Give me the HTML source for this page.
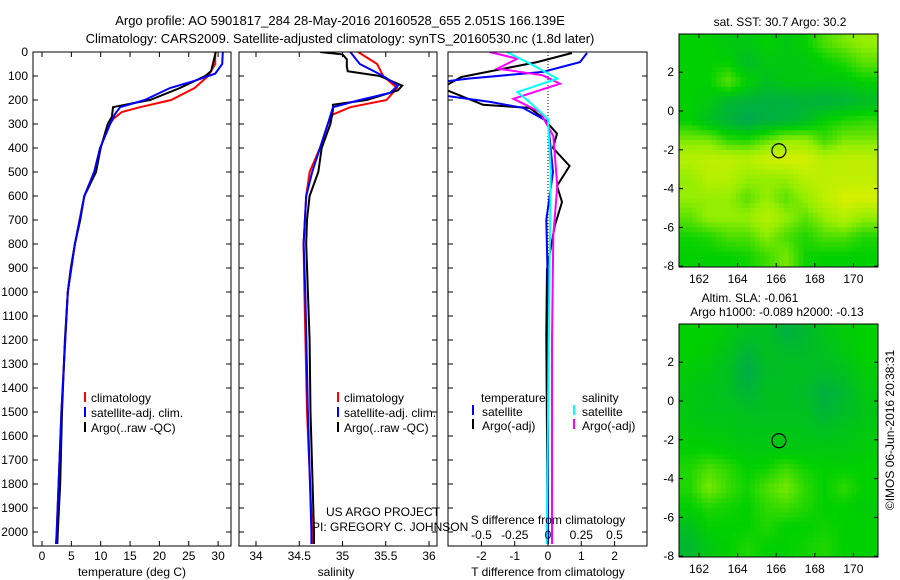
<!DOCTYPE html>
<html><head><meta charset="utf-8"><style>
html,body{margin:0;padding:0;background:#fff}
svg{display:block;font-family:"Liberation Sans",sans-serif;font-size:12px}
</style></head><body>
<svg id="s" width="900" height="580" xmlns="http://www.w3.org/2000/svg">
<defs>
<clipPath id="c1"><rect x="33" y="52" width="198" height="494"/></clipPath>
<clipPath id="c2"><rect x="239" y="52" width="198" height="494"/></clipPath>
<clipPath id="c3"><rect x="448" y="52" width="199" height="494"/></clipPath>
<clipPath id="cm1"><rect x="679" y="34" width="199" height="233"/></clipPath>
<clipPath id="cm2"><rect x="679" y="324" width="199" height="233"/></clipPath>
</defs>
<text x="340" y="25" text-anchor="middle" font-size="13">Argo profile: AO 5901817_284 28-May-2016 20160528_655 2.051S 166.139E</text>
<text x="340" y="43" text-anchor="middle" font-size="13">Climatology: CARS2009. Satellite-adjusted climatology: synTS_20160530.nc (1.8d later)</text>
<g id="maps"></g>
<g id="lines"></g>
<g id="axes"></g>
<rect x="33" y="52" width="198" height="494" fill="none" stroke="#000"/>
<rect x="239" y="52" width="198" height="494" fill="none" stroke="#000"/>
<rect x="448" y="52" width="199" height="494" fill="none" stroke="#000"/>
<rect x="679" y="34" width="199" height="233" fill="none" stroke="#000"/>
<rect x="679" y="324" width="199" height="233" fill="none" stroke="#000"/>
<text x="132" y="576" text-anchor="middle">temperature (deg C)</text>
<text x="336" y="576" text-anchor="middle">salinity</text>
<text x="548" y="576" text-anchor="middle">T difference from climatology</text>
<text x="548" y="524" text-anchor="middle">S difference from climatology</text>
<text x="326" y="516">US ARGO PROJECT</text>
<text x="312" y="531">PI: GREGORY C. JOHNSON</text>
<g>
<rect x="84" y="392" width="2" height="10" fill="#f00"/><text x="91" y="402">climatology</text>
<rect x="84" y="407" width="2" height="10" fill="#00f"/><text x="91" y="417">satellite-adj. clim.</text>
<rect x="84" y="422" width="2" height="10" fill="#000"/><text x="91" y="432">Argo(..raw -QC)</text>
</g>
<g>
<rect x="337" y="392" width="2" height="10" fill="#f00"/><text x="344" y="402">climatology</text>
<rect x="337" y="407" width="2" height="10" fill="#00f"/><text x="344" y="417">satellite-adj. clim.</text>
<rect x="337" y="422" width="2" height="10" fill="#000"/><text x="344" y="432">Argo(..raw -QC)</text>
</g>
<g>
<text x="481" y="402">temperature</text><text x="582" y="402">salinity</text>
<rect x="472" y="405" width="2" height="10" fill="#00f"/><text x="482" y="416">satellite</text>
<rect x="472" y="419" width="2" height="10" fill="#000"/><text x="482" y="430">Argo(-adj)</text>
<rect x="573" y="405" width="2" height="10" fill="#0ff"/><text x="582" y="416">satellite</text>
<rect x="573" y="419" width="2" height="10" fill="#f0f"/><text x="582" y="430">Argo(-adj)</text>
</g>
<text x="780" y="26" text-anchor="middle">sat. SST: 30.7 Argo: 30.2</text>
<text x="750" y="302" text-anchor="middle">Altim. SLA: -0.061</text>
<text x="777" y="316" text-anchor="middle">Argo h1000: -0.089 h2000: -0.13</text>
<text transform="translate(894,430) rotate(-90)" text-anchor="middle">©IMOS 06-Jun-2016 20:38:31</text>
</svg>
<script>
const depthTicks=[0,100,200,300,400,500,600,700,800,900,1000,1100,1200,1300,1400,1500,1600,1700,1800,1900,2000];
const tTicks=[0,5,10,15,20,25,30];
const sTicks=[34,34.5,35,35.5,36];
const sTickLabels=["34","34.5","35","35.5","36"];
const dTTicks=[-2,-1,0,1,2];
const dSTicks=[-0.5,-0.25,0,0.25,0.5];
const dSTickLabels=["-0.5","-0.25","0","0.25","0.5"];
const latTicks=[2,0,-2,-4,-6,-8];
const lonTicks=[162,164,166,168,170];

const tArgoDepth=[0,80,100,150,200,220,230,270,300,400,500,600,700,800,900,1000,1200,1500,1800,2000,2050];
const tArgo=[29.6,28.8,27.8,23.5,18.4,14.1,12.1,11.9,11.2,10,9.2,7.2,6.5,5.6,4.9,4.4,3.9,3.4,3.1,2.7,2.6];
const tClimDepth=[0,50,100,150,200,230,250,280,300,400,500,600,800,1000,1500,2000,2050];
const tClim=[29.5,29.5,28.3,26,22,16.7,13.6,12.1,11.6,9.9,8.9,7.2,5.6,4.4,3.3,2.5,2.4];
const tSatDepth=[0,50,90,120,150,200,230,260,300,400,500,600,800,1000,1500,2000,2050];
const tSat=[30.8,30.7,29.5,26,21.8,17.5,13.3,12.4,11.6,9.9,8.9,7.2,5.6,4.4,3.3,2.5,2.4];

const sArgoDepth=[0,10,30,60,80,100,140,160,200,220,240,300,400,500,600,700,800,1000,1200,1500,2000,2050];
const sArgo=[34.74,35.0,35.05,35.05,35.06,35.43,35.69,35.64,35.28,34.89,34.89,34.86,34.76,34.72,34.62,34.59,34.58,34.6,34.62,34.63,34.67,34.67];
const sClimDepth=[0,50,100,150,200,230,260,300,400,500,600,800,1000,1500,2000,2050];
const sClim=[35.18,35.4,35.47,35.63,35.51,35.09,34.89,34.83,34.74,34.62,34.58,34.55,34.56,34.59,34.65,34.65];
const sSatDepth=[0,50,100,140,170,200,230,300,400,500,600,800,1000,1500,2000,2050];
const sSat=[35.09,35.2,35.47,35.64,35.55,35.2,34.89,34.83,34.74,34.65,34.58,34.55,34.57,34.6,34.64,34.64];

const dTArgoDepth=[4,42,104,150,220,233,275,340,400,475,558,625,725,905,1180,1600,1900,2050];
const dTArgo=[0.72,-0.33,-2.6,-3.2,-1.95,-0.55,-0.15,0.27,0.15,0.65,0.27,0.42,0.2,-0.03,-0.05,-0.03,-0.02,-0.02];
const dTSatDepth=[4,42,83,111,125,180,208,233,290,500,700,1000,1500,2050];
const dTSat=[1.17,0.96,-0.15,-2.4,-3.2,-3.2,-1.74,-0.75,0,0.15,-0.05,0,0,0];
const dSSatDepth=[0,56,111,167,208,280,500,1000,1500,2050];
const dSSat=[-0.31,-0.11,0.07,-0.23,-0.14,0,0.02,0.01,0.0,-0.01];
const dSArgoDepth=[0,28,69,97,132,195,250,350,558,765,1200,2050];
const dSArgo=[-0.44,-0.23,-0.38,-0.04,0.09,-0.26,-0.06,0.04,0.07,0.04,0.03,0.03];

const mapLats=[3.5,2.5,1.5,0.5,-0.5,-1.5,-2.5,-3.5,-4.5,-5.5,-6.5,-7.5];
const mapLons=[161.5,162.5,163.5,164.5,165.5,166.5,167.5,168.5,169.5,170.5];
const sstGrid=[
[2,2,1.8,1.8,2,1.8,2,2.5,2.8,3],
[2,2,2,1.5,1.8,1.8,1.8,2,2.2,2.6],
[2,2,2.6,2,1.6,1.8,1.8,1.8,1.8,2],
[2,1.8,1.4,1.3,1.2,1.2,1.3,1.2,1.3,1.5],
[2,1.6,1.3,1,1.2,1.3,1.5,2,2.2,2.3],
[2.8,2.8,2.3,2.2,2.6,3,3,2.4,2.8,2.8],
[3.4,3.5,3.5,3.4,3.7,3.8,3.8,3.4,3.5,3.5],
[3,3.4,3.4,3,3,3,3.4,3.5,3.5,3.5],
[3,3,3,2.6,3,2.6,3,3.5,3.8,3.8],
[2.6,3,3,3,3.4,3,2.6,3,3.4,3],
[2.1,2.2,2.5,2.5,2.9,2.5,2.2,2.5,2.5,2.2],
[2,2,2,2.1,2.4,2.8,2.1,2,2,2]];
const slaGrid=[
[2,2,1.8,1.6,1.6,1.2,1.4,1.7,1.9,2],
[2,1.9,1.7,1.3,1.6,1.5,1.5,1.6,1.8,2],
[1.9,1.8,1.6,1.1,1.5,1.6,1.6,1.5,1.6,1.9],
[1.8,1.7,1.6,1.3,1.6,1.6,1.5,1.2,1.4,1.8],
[1.8,1.7,1.7,1.6,1.6,1.6,1.6,1.3,1.5,1.7],
[1.9,1.8,1.8,1.7,1.7,1.7,1.7,1.6,1.7,1.8],
[2,2,1.9,1.8,1.8,1.8,1.8,1.8,1.8,1.9],
[2.2,2.5,2.3,2.0,2.1,2.4,2.1,2.0,2.0,2.0],
[2.2,2.8,2.4,2.1,2.5,2.8,2.3,2.0,2.3,2.0],
[2.0,2.2,2.1,2.0,2.3,2.4,2.2,2.0,2.0,1.9],
[1.6,2.0,2.0,2.0,2.2,2.0,2.0,2.1,2.0,2.0],
[1.4,1.8,2.0,2.2,2.0,2.0,2.1,2.2,2.0,2.0]];
const floatLon=166.14, floatLat=-2.05;

const NS='http://www.w3.org/2000/svg';
const yD=d=>52+d*0.24;
const xT=t=>42+t*5.87;
const xS=s=>256+(s-34)*86.5;
const xdT=v=>548+v*33.3;
const xdS=v=>548+v*133;
const lonX=l=>699+(l-162)*19.3;
const latY1=a=>111-a*19.4;
const latY2=a=>401-a*19.4;
function mk(tag,attrs,parent){const e=document.createElementNS(NS,tag);for(const k in attrs)e.setAttribute(k,attrs[k]);parent.appendChild(e);return e;}
const gL=document.getElementById('lines'),gA=document.getElementById('axes'),gM=document.getElementById('maps');

function profile(depths,vals,xf,color,clip,name,w){
  const pts=depths.map((d,i)=>xf(vals[i]).toFixed(1)+','+yD(d).toFixed(1)).join(' ');
  const p=mk('polyline',{points:pts,fill:'none',stroke:color,'stroke-width':w||2,'clip-path':'url(#'+clip+')'},gL);
  
  
}
mk('line',{x1:548,y1:52,x2:548,y2:300,stroke:'#000','stroke-dasharray':'1,2','stroke-width':1},gL);
profile(tClimDepth,tClim,xT,'#f00','c1','temperature-climatology-line');
profile(tArgoDepth,tArgo,xT,'#000','c1','temperature-argo-line');
profile(tSatDepth,tSat,xT,'#00f','c1','temperature-satellite-line');
profile(sClimDepth,sClim,xS,'#f00','c2','salinity-climatology-line');
profile(sArgoDepth,sArgo,xS,'#000','c2','salinity-argo-line');
profile(sSatDepth,sSat,xS,'#00f','c2','salinity-satellite-line');
profile(dTArgoDepth,dTArgo,xdT,'#000','c3','t-diff-argo-line');
profile(dTSatDepth,dTSat,xdT,'#00f','c3','t-diff-satellite-line');
profile(dSArgoDepth,dSArgo,xdS,'#f0f','c3','s-diff-argo-line');
profile(dSSatDepth,dSSat,xdS,'#0ff','c3','s-diff-satellite-line');

function txt(x,y,s,anchor,name){const t=mk('text',{x:x,y:y,'text-anchor':anchor||'middle'},gA);t.textContent=s;
  
  }
depthTicks.forEach(d=>{const y=yD(d);txt(28,y+4,String(d),'end','depth-tick-label');
  [33,239,448].forEach(x=>mk('line',{x1:x,y1:y,x2:x+5,y2:y,stroke:'#000'},gA));
  [231,437,647].forEach(x=>mk('line',{x1:x,y1:y,x2:x-5,y2:y,stroke:'#000'},gA));});
tTicks.forEach(t=>{const x=xT(t);txt(x,560,String(t),'middle','temperature-tick-label');
  mk('line',{x1:x,y1:52,x2:x,y2:57,stroke:'#000'},gA);mk('line',{x1:x,y1:546,x2:x,y2:541,stroke:'#000'},gA);});
sTicks.forEach((s,i)=>{const x=xS(s);txt(x,560,sTickLabels[i],'middle','salinity-tick-label');
  mk('line',{x1:x,y1:52,x2:x,y2:57,stroke:'#000'},gA);mk('line',{x1:x,y1:546,x2:x,y2:541,stroke:'#000'},gA);});
dTTicks.forEach(v=>{const x=xdT(v);txt(x,560,String(v),'middle','t-diff-tick-label');
  mk('line',{x1:x,y1:546,x2:x,y2:541,stroke:'#000'},gA);});
dSTicks.forEach((v,i)=>{txt(xdS(v),539,dSTickLabels[i],'middle','s-diff-tick-label');});

const stops=[[20,150,200],[0,168,80],[0,208,0],[150,238,0],[230,240,0]];
function col(v){v=Math.max(0,Math.min(4,v));const i=Math.min(3,Math.floor(v)),f=v-i,a=stops[i],b=stops[i+1];
  return 'rgb('+a.map((c,k)=>Math.round(c+(b[k]-c)*f)).join(',')+')';}
function samp(g,r,c){r=Math.max(0,Math.min(11,r));c=Math.max(0,Math.min(9,c));
  const r0=Math.floor(r),c0=Math.floor(c),r1=Math.min(11,r0+1),c1=Math.min(9,c0+1),fr=r-r0,fc=c-c0;
  return g[r0][c0]*(1-fr)*(1-fc)+g[r0][c1]*(1-fr)*fc+g[r1][c0]*fr*(1-fc)+g[r1][c1]*fr*fc;}
function drawMap(g,latY,clip,name){
  const grp=mk('g',{'clip-path':'url(#'+clip+')'},gM);
  
  
  const step=0.25;
  for(let la=4;la>-8.3;la-=step){for(let lo=160.9;lo<171.5;lo+=step){
    const r=(mapLats[0]-(la-step/2))/(mapLats[0]-mapLats[1]);
    const c=((lo+step/2)-mapLons[0])/(mapLons[1]-mapLons[0]);
    mk('rect',{x:lonX(lo).toFixed(1),y:latY(la).toFixed(1),width:(step*19.3+0.6).toFixed(1),height:(step*19.4+0.6).toFixed(1),fill:col(samp(g,r,c))},grp);
  }}
  const cc=mk('circle',{cx:lonX(floatLon),cy:latY(floatLat),r:7,fill:'none',stroke:'#000','stroke-width':1.2},gM);
  
  
}
drawMap(sstGrid,latY1,'cm1','sst-map');
drawMap(slaGrid,latY2,'cm2','sla-map');
[[latY1,34,267,283],[latY2,324,557,573]].forEach(([ly,top,bot,lab])=>{
  latTicks.forEach(a=>{const y=ly(a);txt(674,y+4,String(a),'end','latitude-tick-label');
    mk('line',{x1:679,y1:y,x2:683,y2:y,stroke:'#000'},gA);mk('line',{x1:878,y1:y,x2:874,y2:y,stroke:'#000'},gA);});
  lonTicks.forEach(l=>{const x=lonX(l);txt(x,lab,String(l),'middle','longitude-tick-label');
    mk('line',{x1:x,y1:top,x2:x,y2:top+4,stroke:'#000'},gA);mk('line',{x1:x,y1:bot,x2:x,y2:bot-4,stroke:'#000'},gA);});
});
</script>
</body></html>
